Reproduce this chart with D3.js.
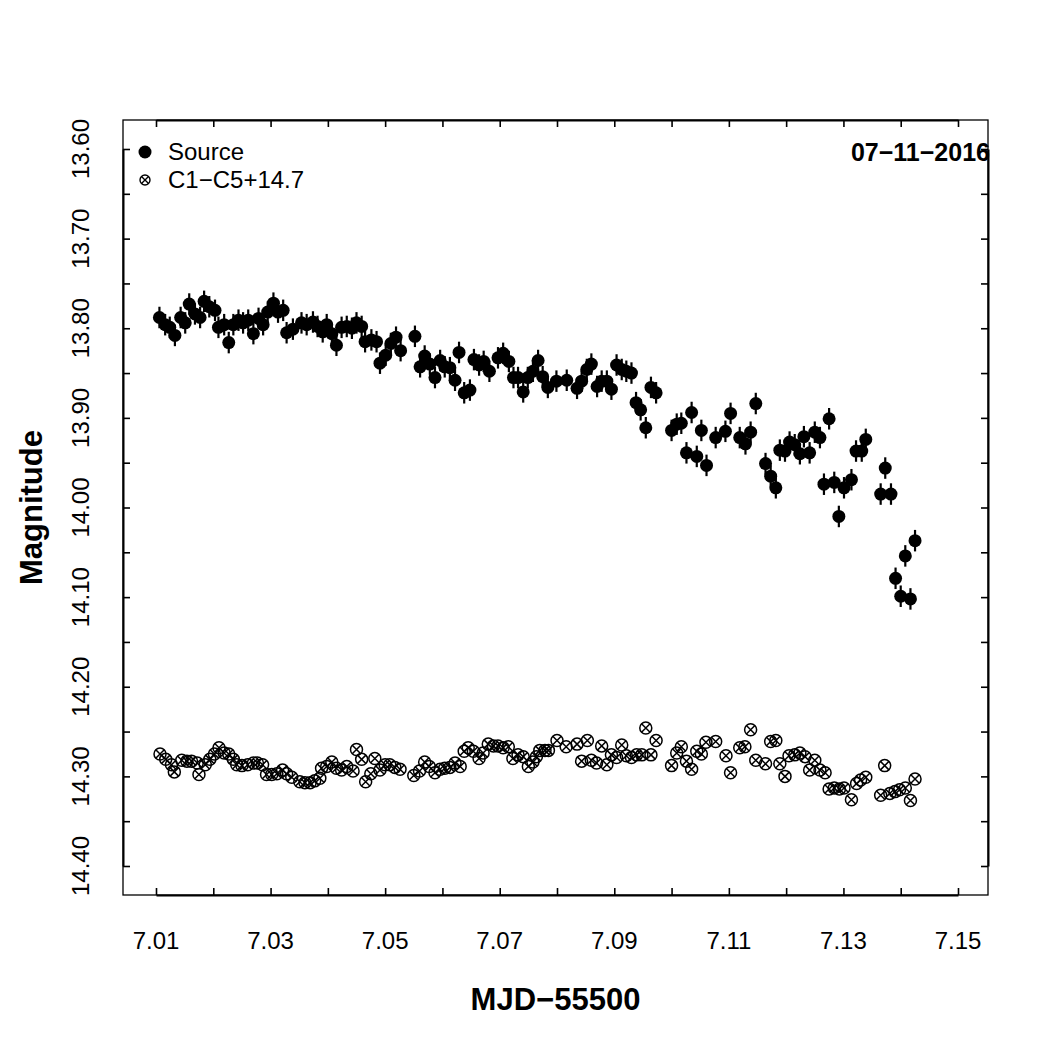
<!DOCTYPE html>
<html><head><meta charset="utf-8">
<script src="https://cdn.jsdelivr.net/npm/d3@7"></script>
<style>
html,body{margin:0;padding:0;background:#fff;}
svg{display:block;font-family:"Liberation Sans",Arial,Helvetica,sans-serif;}
</style></head>
<body>
<svg id="c" width="1048" height="1048"></svg>
<script>
// ---- data ----
const srcTime = [7.0106,7.0116,7.0124,7.0133,7.0143,7.0151,7.0158,7.0168,7.0177,7.0184,7.0193,7.0203,7.0209,7.0219,7.0227,7.0235,7.0244,7.0252,7.0261,7.0270,7.0279,7.0287,7.0295,7.0305,7.0313,7.0322,7.0328,7.0339,7.0354,7.0363,7.0374,7.0382,7.0391,7.0398,7.0407,7.0415,7.0424,7.0433,7.0442,7.0450,7.0459,7.0465,7.0476,7.0485,7.0491,7.0501,7.0510,7.0519,7.0527,7.0552,7.0561,7.0569,7.0578,7.0587,7.0596,7.0604,7.0613,7.0622,7.0629,7.0638,7.0648,7.0655,7.0664,7.0672,7.0682,7.0697,7.0706,7.0716,7.0724,7.0732,7.0741,7.0749,7.0758,7.0767,7.0775,7.0784,7.0799,7.0817,7.0835,7.0843,7.0852,7.0860,7.0870,7.0878,7.0887,7.0895,7.0904,7.0913,7.0921,7.0930,7.0938,7.0946,7.0955,7.0964,7.0973,7.1000,7.1009,7.1017,7.1026,7.1035,7.1044,7.1052,7.1061,7.1077,7.1094,7.1103,7.1119,7.1129,7.1138,7.1147,7.1164,7.1173,7.1182,7.1189,7.1198,7.1206,7.1215,7.1224,7.1231,7.1241,7.1250,7.1259,7.1266,7.1275,7.1284,7.1292,7.1301,7.1314,7.1322,7.1332,7.1339,7.1365,7.1373,7.1383,7.1391,7.1400,7.1408,7.1417,7.1425];
const srcMag = [13.788,13.796,13.799,13.808,13.788,13.794,13.773,13.784,13.788,13.770,13.776,13.780,13.799,13.796,13.816,13.796,13.791,13.794,13.791,13.806,13.789,13.796,13.782,13.772,13.782,13.780,13.805,13.801,13.794,13.796,13.793,13.798,13.804,13.796,13.806,13.819,13.799,13.798,13.800,13.794,13.798,13.815,13.813,13.815,13.839,13.830,13.817,13.810,13.825,13.809,13.843,13.831,13.840,13.855,13.836,13.843,13.844,13.858,13.827,13.872,13.869,13.835,13.841,13.837,13.848,13.833,13.828,13.837,13.855,13.855,13.871,13.855,13.848,13.836,13.854,13.866,13.859,13.858,13.867,13.859,13.846,13.840,13.865,13.859,13.859,13.868,13.841,13.846,13.848,13.850,13.883,13.891,13.911,13.866,13.872,13.914,13.907,13.906,13.939,13.894,13.943,13.914,13.953,13.922,13.915,13.895,13.922,13.929,13.916,13.884,13.951,13.965,13.978,13.936,13.937,13.927,13.930,13.940,13.921,13.939,13.916,13.922,13.974,13.901,13.972,14.010,13.978,13.969,13.937,13.937,13.924,13.985,13.956,13.985,14.079,14.099,14.054,14.102,14.037];
const srcErr = 0.012;

const cmpTime = [7.0107,7.0117,7.0127,7.0132,7.0145,7.0154,7.0162,7.0172,7.0175,7.0186,7.0194,7.0202,7.0210,7.0219,7.0227,7.0235,7.0241,7.0250,7.0260,7.0270,7.0277,7.0286,7.0293,7.0302,7.0311,7.0321,7.0328,7.0337,7.0351,7.0360,7.0369,7.0377,7.0386,7.0389,7.0398,7.0407,7.0415,7.0424,7.0433,7.0444,7.0450,7.0459,7.0466,7.0475,7.0482,7.0491,7.0500,7.0508,7.0517,7.0526,7.0550,7.0560,7.0569,7.0577,7.0587,7.0596,7.0604,7.0613,7.0622,7.0631,7.0638,7.0645,7.0654,7.0664,7.0671,7.0680,7.0689,7.0697,7.0706,7.0715,7.0723,7.0732,7.0741,7.0750,7.0758,7.0764,7.0770,7.0779,7.0785,7.0800,7.0816,7.0835,7.0843,7.0853,7.0860,7.0869,7.0878,7.0887,7.0895,7.0904,7.0913,7.0921,7.0930,7.0939,7.0948,7.0955,7.0964,7.0973,7.1000,7.1009,7.1017,7.1026,7.1035,7.1044,7.1052,7.1060,7.1077,7.1095,7.1103,7.1119,7.1128,7.1138,7.1147,7.1164,7.1173,7.1182,7.1189,7.1198,7.1205,7.1215,7.1224,7.1233,7.1241,7.1250,7.1259,7.1268,7.1275,7.1284,7.1293,7.1301,7.1314,7.1323,7.1330,7.1339,7.1365,7.1372,7.1381,7.1390,7.1398,7.1408,7.1417,7.1425];
const cmpMag = [14.275,14.281,14.287,14.295,14.282,14.283,14.283,14.285,14.298,14.287,14.281,14.275,14.268,14.274,14.275,14.281,14.287,14.288,14.287,14.285,14.285,14.287,14.298,14.298,14.297,14.293,14.297,14.301,14.306,14.307,14.307,14.305,14.302,14.291,14.289,14.284,14.291,14.293,14.289,14.294,14.270,14.281,14.306,14.297,14.280,14.293,14.287,14.287,14.290,14.292,14.299,14.294,14.284,14.289,14.296,14.292,14.291,14.290,14.285,14.289,14.272,14.268,14.272,14.280,14.274,14.264,14.266,14.266,14.268,14.267,14.280,14.276,14.278,14.289,14.284,14.278,14.271,14.271,14.271,14.260,14.267,14.264,14.283,14.260,14.282,14.285,14.266,14.287,14.276,14.279,14.265,14.277,14.279,14.276,14.276,14.246,14.276,14.260,14.288,14.274,14.267,14.283,14.292,14.272,14.275,14.262,14.261,14.277,14.296,14.268,14.267,14.248,14.282,14.286,14.261,14.260,14.286,14.300,14.277,14.276,14.274,14.278,14.293,14.282,14.293,14.296,14.314,14.313,14.314,14.313,14.326,14.308,14.304,14.301,14.321,14.288,14.319,14.317,14.315,14.313,14.327,14.303];

const xMajor = [7.01,7.03,7.05,7.07,7.09,7.11,7.13,7.15];
const xMinor = [7.01,7.02,7.03,7.04,7.05,7.06,7.07,7.08,7.09,7.10,7.11,7.12,7.13,7.14,7.15];
const yMajor = [13.6,13.7,13.8,13.9,14.0,14.1,14.2,14.3,14.4];
const yMinor = [13.60,13.65,13.70,13.75,13.80,13.85,13.90,13.95,14.00,14.05,14.10,14.15,14.20,14.25,14.30,14.35,14.40];
const legendLabels = ["Source","C1\u2212C5+14.7"];
const dateLabel = "07\u221211\u22122016";
const xTitle = "MJD\u221255500";
const yTitle = "Magnitude";

// ---- layout ----
const box = {l:123, r:988, t:120, b:895};
const x = d3.scaleLinear().domain([7.01,7.15]).range([156,958]);
const y = d3.scaleLinear().domain([13.60,14.40]).range([149,866]);
const svg = d3.select("#c");
const TICK = 7;

svg.append("rect").attr("x",box.l).attr("y",box.t).attr("width",box.r-box.l).attr("height",box.b-box.t)
  .attr("fill","none").attr("stroke","#000").attr("stroke-width",1.3);

function styleAxis(g){
  g.select(".domain").attr("stroke","#000").attr("stroke-width",2);
  g.selectAll(".tick line").attr("stroke","#000").attr("stroke-width",1.6);
  g.selectAll(".tick text").remove();
}
svg.append("g").attr("transform",`translate(0,${box.b})`)
  .call(d3.axisBottom(x).tickValues(xMinor).tickSizeInner(-TICK).tickSizeOuter(0).tickFormat(""))
  .call(styleAxis);
svg.append("g").attr("transform",`translate(0,${box.t})`)
  .call(d3.axisTop(x).tickValues(xMinor).tickSizeInner(-TICK).tickSizeOuter(0).tickFormat(""))
  .call(styleAxis);
svg.append("g").attr("transform",`translate(${box.l},0)`)
  .call(d3.axisLeft(y).tickValues(yMinor).tickSizeInner(-TICK).tickSizeOuter(0).tickFormat(""))
  .call(styleAxis);
svg.append("g").attr("transform",`translate(${box.r},0)`)
  .call(d3.axisRight(y).tickValues(yMinor).tickSizeInner(-TICK).tickSizeOuter(0).tickFormat(""))
  .call(styleAxis);

// tick labels
svg.append("g").selectAll("text").data(xMajor).join("text")
  .attr("x",d=>x(d)).attr("y",949).attr("text-anchor","middle")
  .attr("font-size",24).text(d=>d.toFixed(2));
svg.append("g").selectAll("text").data(yMajor).join("text")
  .attr("transform",d=>`translate(89,${y(d)}) rotate(-90)`).attr("text-anchor","middle")
  .attr("font-size",24).text(d=>d.toFixed(2));

// titles
svg.append("text").attr("x",(box.l+box.r)/2).attr("y",1010).attr("text-anchor","middle")
  .attr("font-size",31).attr("font-weight","bold").text(xTitle);
svg.append("text").attr("transform",`translate(42,${(box.t+box.b)/2}) rotate(-90)`).attr("text-anchor","middle")
  .attr("font-size",31).attr("font-weight","bold").text(yTitle);

// comparison symbols (circle with X)
const R2 = 6;
const k = R2*0.707;
const cmp = svg.append("g").selectAll("g").data(cmpTime.map((t,i)=>[t,cmpMag[i]])).join("g")
  .attr("transform",d=>`translate(${x(d[0])},${y(d[1])})`)
  .attr("fill","none").attr("stroke","#000").attr("stroke-width",1.5);
cmp.append("circle").attr("r",R2);
cmp.append("path").attr("d",`M${-k},${-k}L${k},${k}M${-k},${k}L${k},${-k}`);

// source error bars + points
const src = srcTime.map((t,i)=>[t,srcMag[i]]);
svg.append("g").selectAll("line").data(src).join("line")
  .attr("x1",d=>x(d[0])).attr("x2",d=>x(d[0]))
  .attr("y1",d=>y(d[1]-srcErr)).attr("y2",d=>y(d[1]+srcErr))
  .attr("stroke","#000").attr("stroke-width",2.2);
svg.append("g").selectAll("circle").data(src).join("circle")
  .attr("cx",d=>x(d[0])).attr("cy",d=>y(d[1])).attr("r",6.5).attr("fill","#000");

// legend
const lg = svg.append("g");
lg.append("circle").attr("cx",145).attr("cy",152).attr("r",6.5).attr("fill","#000");
const ls = lg.append("g").attr("transform","translate(145,180)").attr("fill","none").attr("stroke","#000").attr("stroke-width",1.4);
ls.append("circle").attr("r",5);
ls.append("path").attr("d","M-3.5,-3.5L3.5,3.5M-3.5,3.5L3.5,-3.5");
lg.selectAll("text").data(legendLabels).join("text")
  .attr("x",168).attr("y",(d,i)=>160+i*28).attr("font-size",24).text(d=>d);

// date
svg.append("text").attr("x",990).attr("y",161).attr("text-anchor","end")
  .attr("font-size",25).attr("font-weight","bold").text(dateLabel);
</script>
</body></html>
